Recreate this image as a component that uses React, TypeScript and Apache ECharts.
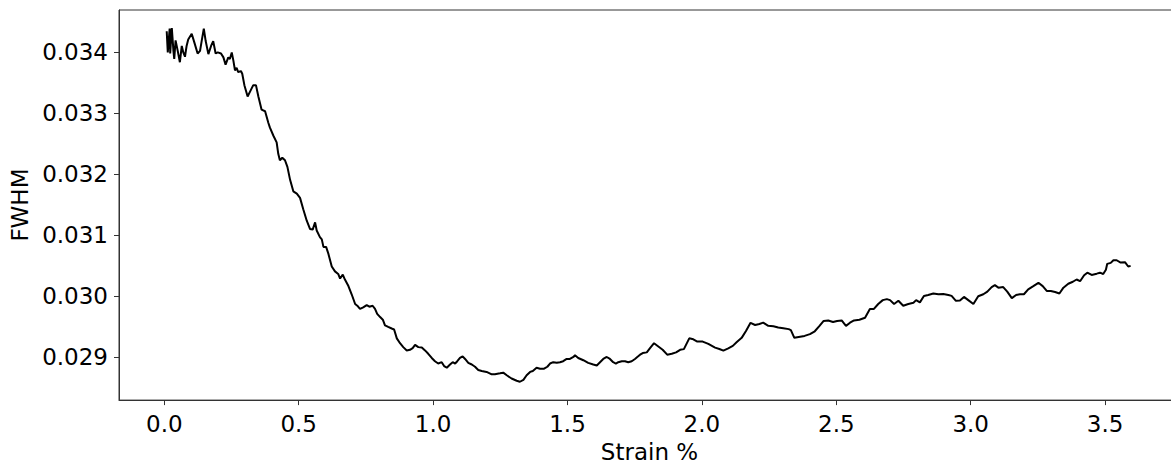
import React, { useEffect, useRef } from "react";
import * as echarts from "echarts";

const strain: number[] = [
  0.009, 0.013, 0.020, 0.022, 0.028, 0.034, 0.037, 0.042, 0.050, 0.058, 0.065, 0.071, 0.077, 0.083, 0.089,
  0.102, 0.112, 0.124, 0.133, 0.139, 0.147, 0.154, 0.164, 0.174, 0.182, 0.191, 0.199, 0.211, 0.220, 0.228,
  0.238, 0.244, 0.251, 0.257, 0.263, 0.269, 0.275, 0.285, 0.290, 0.298, 0.310, 0.319, 0.331, 0.341, 0.350,
  0.362, 0.375, 0.387, 0.393, 0.406, 0.418, 0.424, 0.430, 0.439, 0.449, 0.458, 0.468, 0.480, 0.493, 0.505,
  0.517, 0.530, 0.542, 0.552, 0.561, 0.567, 0.579, 0.586, 0.592, 0.602, 0.610, 0.623, 0.635, 0.647, 0.654,
  0.664, 0.672, 0.685, 0.697, 0.710, 0.718, 0.728, 0.740, 0.753, 0.763, 0.775, 0.784, 0.792, 0.803, 0.813,
  0.821, 0.833, 0.846, 0.855, 0.865, 0.877, 0.889, 0.902, 0.914, 0.924, 0.933, 0.945, 0.958, 0.970, 0.982,
  0.995, 1.007, 1.019, 1.032, 1.041, 1.051, 1.063, 1.073, 1.082, 1.090, 1.100, 1.110, 1.119, 1.131, 1.144,
  1.156, 1.168, 1.181, 1.199, 1.218, 1.230, 1.249, 1.261, 1.274, 1.292, 1.311, 1.323, 1.336, 1.348, 1.361,
  1.371, 1.385, 1.398, 1.413, 1.425, 1.435, 1.447, 1.460, 1.472, 1.484, 1.497, 1.509, 1.522, 1.528, 1.540,
  1.559, 1.577, 1.596, 1.609, 1.621, 1.633, 1.646, 1.658, 1.670, 1.680, 1.689, 1.702, 1.714, 1.726, 1.739,
  1.751, 1.763, 1.770, 1.780, 1.795, 1.807, 1.822, 1.838, 1.854, 1.871, 1.888, 1.904, 1.919, 1.933, 1.953,
  1.968, 1.983, 2.003, 2.024, 2.049, 2.065, 2.080, 2.098, 2.115, 2.130, 2.148, 2.164, 2.181, 2.198, 2.214,
  2.228, 2.247, 2.266, 2.284, 2.303, 2.323, 2.331, 2.344, 2.360, 2.382, 2.402, 2.420, 2.436, 2.453, 2.470,
  2.488, 2.503, 2.520, 2.536, 2.551, 2.566, 2.586, 2.607, 2.625, 2.640, 2.656, 2.673, 2.688, 2.700, 2.715,
  2.731, 2.749, 2.768, 2.787, 2.797, 2.811, 2.826, 2.842, 2.861, 2.880, 2.898, 2.917, 2.929, 2.945, 2.960,
  2.975, 2.991, 3.010, 3.028, 3.047, 3.062, 3.078, 3.090, 3.103, 3.121, 3.136, 3.153, 3.169, 3.183, 3.198,
  3.214, 3.233, 3.252, 3.268, 3.283, 3.298, 3.314, 3.330, 3.345, 3.363, 3.380, 3.394, 3.407, 3.422, 3.434,
  3.450, 3.469, 3.481, 3.493, 3.503, 3.508, 3.521, 3.531, 3.543, 3.558, 3.574, 3.586, 3.595,
];

const fwhm: number[] = [
  0.034341, 0.033994, 0.034384, 0.033977, 0.034395, 0.034019, 0.033886, 0.034191, 0.034019, 0.033833, 0.0341, 0.03399, 0.033923, 0.0341, 0.034207,
  0.034299, 0.034154, 0.033977, 0.034019, 0.03418, 0.034384, 0.03418, 0.033966, 0.0341, 0.03418, 0.033977, 0.033994, 0.033977, 0.033913, 0.033794,
  0.033913, 0.033886, 0.033994, 0.033859, 0.033698, 0.033741, 0.033672, 0.033688, 0.033645, 0.033457, 0.03327, 0.03335, 0.033457, 0.033457, 0.03327,
  0.033055, 0.033029, 0.032841, 0.03276, 0.032627, 0.032519, 0.032331, 0.032225, 0.032267, 0.032225, 0.032117, 0.031904, 0.031715, 0.031678, 0.031608,
  0.031421, 0.031233, 0.031099, 0.031088, 0.031206, 0.031072, 0.030965, 0.030928, 0.030804, 0.030804, 0.030698, 0.030482, 0.030402, 0.03036, 0.030285,
  0.030349, 0.030268, 0.030161, 0.030027, 0.029867, 0.029839, 0.029786, 0.029813, 0.02985, 0.029823, 0.029839, 0.029786, 0.029706, 0.029653, 0.02961,
  0.029518, 0.029492, 0.029465, 0.029449, 0.029304, 0.029224, 0.02916, 0.029106, 0.029116, 0.029143, 0.029196, 0.02916, 0.029154, 0.029106, 0.029051,
  0.028982, 0.028929, 0.028891, 0.028913, 0.028849, 0.028822, 0.028875, 0.028913, 0.028891, 0.028929, 0.028982, 0.029009, 0.028966, 0.028902, 0.028875,
  0.028838, 0.028785, 0.028769, 0.028753, 0.028714, 0.028714, 0.02873, 0.028741, 0.028698, 0.028645, 0.028608, 0.028592, 0.028624, 0.028698, 0.028753,
  0.028769, 0.028822, 0.028806, 0.028806, 0.028838, 0.028891, 0.028913, 0.028902, 0.028913, 0.028929, 0.028966, 0.028966, 0.028998, 0.029026, 0.028982,
  0.028945, 0.028902, 0.028875, 0.028859, 0.028913, 0.028966, 0.028998, 0.028966, 0.028913, 0.028891, 0.028913, 0.028929, 0.028929, 0.028913, 0.028929,
  0.028966, 0.029009, 0.029036, 0.029063, 0.029074, 0.029143, 0.029224, 0.02917, 0.029116, 0.029036, 0.029051, 0.029074, 0.029116, 0.029127, 0.029304,
  0.029288, 0.029251, 0.029251, 0.029212, 0.029152, 0.02913, 0.029103, 0.02914, 0.02918, 0.029245, 0.029312, 0.029425, 0.029558, 0.029523, 0.02954,
  0.029561, 0.02951, 0.029502, 0.029481, 0.02947, 0.029455, 0.02944, 0.029312, 0.029326, 0.029344, 0.029373, 0.02942, 0.0295, 0.029589, 0.029596,
  0.029572, 0.029589, 0.029598, 0.029508, 0.029561, 0.029598, 0.029609, 0.029642, 0.029786, 0.029786, 0.029867, 0.029931, 0.029947, 0.029931, 0.029867,
  0.02992, 0.029839, 0.029867, 0.029888, 0.029931, 0.029894, 0.03, 0.030016, 0.030039, 0.030027, 0.030032, 0.030016, 0.03, 0.02992, 0.029926,
  0.029984, 0.029931, 0.029867, 0.029995, 0.030027, 0.030071, 0.030145, 0.030177, 0.030135, 0.030145, 0.030071, 0.029963, 0.030016, 0.030027, 0.030027,
  0.030108, 0.030161, 0.030215, 0.030161, 0.030081, 0.030081, 0.030064, 0.030039, 0.030135, 0.030199, 0.030232, 0.030269, 0.030241, 0.030338, 0.030381,
  0.030344, 0.030365, 0.030381, 0.03036, 0.030429, 0.030526, 0.030542, 0.030585, 0.030585, 0.030547, 0.030553, 0.030482, 0.030493,
];

const strainTicks: number[] = [0.0, 0.5, 1.0, 1.5, 2.0, 2.5, 3.0, 3.5];
const fwhmTicks: number[] = [0.029, 0.03, 0.031, 0.032, 0.033, 0.034];

const FONT = "'DejaVu Sans', sans-serif";
const AXIS_COLOR = "#333";

export default function App() {
  const ref = useRef<HTMLDivElement>(null);

  useEffect(() => {
    if (!ref.current) return;
    const chart = echarts.init(ref.current, undefined, { renderer: "svg" });
    const data = strain.map((x, i) => [x, fwhm[i]]);
    chart.setOption({
      animation: false,
      backgroundColor: "#fff",
      grid: {
        left: 119,
        top: 10,
        bottom: 60,
        right: 20,
        show: true,
        borderColor: AXIS_COLOR,
        borderWidth: 1,
        backgroundColor: "transparent",
      },
      xAxis: {
        type: "value",
        min: -0.1685,
        max: 3.7787,
        splitLine: { show: false },
        axisLine: { show: true, onZero: false, lineStyle: { color: AXIS_COLOR, width: 1 } },
        axisTick: {
          show: true,
          length: 5,
          customValues: strainTicks,
          lineStyle: { color: AXIS_COLOR, width: 1 },
        },
        axisLabel: {
          customValues: strainTicks,
          formatter: (v: number) => v.toFixed(1),
          fontSize: 23,
          fontFamily: FONT,
          color: "#000",
          margin: 12,
        },
        name: "Strain %",
        nameLocation: "middle",
        nameGap: 39,
        nameTextStyle: { fontSize: 23, fontFamily: FONT, color: "#000" },
      },
      yAxis: {
        type: "value",
        min: 0.028291,
        max: 0.0346897,
        splitLine: { show: false },
        axisLine: { show: true, onZero: false, lineStyle: { color: AXIS_COLOR, width: 1 } },
        axisTick: {
          show: true,
          length: 5,
          customValues: fwhmTicks,
          lineStyle: { color: AXIS_COLOR, width: 1 },
        },
        axisLabel: {
          customValues: fwhmTicks,
          formatter: (v: number) => v.toFixed(3),
          fontSize: 23,
          fontFamily: FONT,
          color: "#000",
          margin: 11,
        },
        name: "FWHM",
        nameLocation: "middle",
        nameRotate: 90,
        nameGap: 84,
        nameTextStyle: { fontSize: 23, fontFamily: FONT, color: "#000" },
      },
      series: [
        {
          type: "line",
          data,
          showSymbol: false,
          symbol: "none",
          lineStyle: { color: "#000", width: 2 },
          z: 3,
        },
      ],
    });
    return () => chart.dispose();
  }, []);

  return (
    <div
      style={{
        position: "fixed",
        left: 0,
        top: 0,
        width: 1171,
        height: 468,
        overflow: "hidden",
        background: "#fff",
      }}
    >
      <div ref={ref} style={{ width: 1200, height: 468 }} />
    </div>
  );
}
